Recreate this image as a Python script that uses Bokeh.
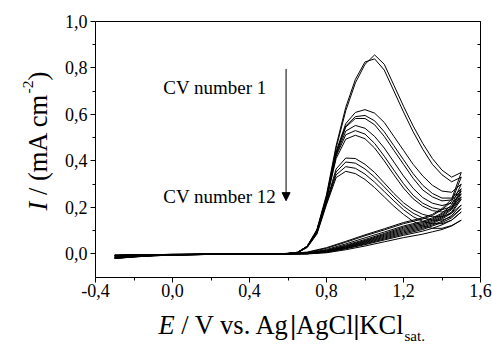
import math
from bokeh.plotting import figure
from bokeh.models import (Range1d, LinearAxis, FixedTicker, CustomJSTickFormatter,
                          Label, Arrow, NormalHead, ColumnDataSource)
from bokeh.embed import file_html
from bokeh.resources import INLINE

# ---------------- data ----------------
E_FWD = [-0.3, -0.2, -0.1, 0.0, 0.2, 0.4, 0.6, 0.65, 0.7, 0.75, 0.8, 0.85, 0.9,
         0.95, 1.0, 1.05, 1.1, 1.15, 1.2, 1.25, 1.3, 1.35, 1.4, 1.45, 1.5]
E_REV = [1.5, 1.45, 1.4, 1.35, 1.3, 1.2, 1.1, 1.0, 0.9, 0.8, 0.7, 0.6, 0.4, 0.2,
         0.0, -0.2, -0.3]

I_FWD_1 = [-0.014, -0.009, -0.005, -0.003, -0.001, 0.000, 0.002, 0.007, 0.032, 0.100, 0.245, 0.455, 0.615, 0.735, 0.815, 0.855, 0.815, 0.725, 0.635, 0.550, 0.475, 0.410, 0.360, 0.330, 0.350]
I_FWD_2 = [-0.015, -0.010, -0.006, -0.003, -0.001, 0.000, 0.002, 0.007, 0.034, 0.105, 0.255, 0.465, 0.630, 0.750, 0.825, 0.838, 0.790, 0.700, 0.610, 0.525, 0.450, 0.385, 0.340, 0.310, 0.330]
I_FWD_3 = [-0.015, -0.010, -0.006, -0.003, -0.001, 0.000, 0.002, 0.007, 0.033, 0.100, 0.245, 0.440, 0.560, 0.608, 0.620, 0.605, 0.565, 0.505, 0.445, 0.385, 0.335, 0.295, 0.270, 0.265, 0.300]
I_FWD_4 = [-0.016, -0.010, -0.006, -0.004, -0.001, 0.000, 0.002, 0.007, 0.033, 0.100, 0.245, 0.435, 0.550, 0.590, 0.595, 0.572, 0.525, 0.465, 0.405, 0.345, 0.295, 0.260, 0.240, 0.240, 0.280]
I_FWD_5 = [-0.016, -0.011, -0.006, -0.004, -0.001, 0.000, 0.002, 0.007, 0.033, 0.100, 0.240, 0.430, 0.545, 0.582, 0.582, 0.555, 0.505, 0.445, 0.385, 0.325, 0.275, 0.245, 0.228, 0.232, 0.270]
I_FWD_6 = [-0.017, -0.011, -0.007, -0.004, -0.001, 0.000, 0.002, 0.006, 0.032, 0.098, 0.238, 0.425, 0.528, 0.552, 0.540, 0.505, 0.455, 0.395, 0.335, 0.282, 0.242, 0.218, 0.208, 0.218, 0.258]
I_FWD_7 = [-0.017, -0.011, -0.007, -0.004, -0.001, 0.000, 0.002, 0.006, 0.032, 0.097, 0.235, 0.420, 0.512, 0.530, 0.515, 0.475, 0.420, 0.360, 0.302, 0.252, 0.218, 0.198, 0.190, 0.203, 0.245]
I_FWD_8 = [-0.018, -0.012, -0.007, -0.004, -0.002, 0.000, 0.002, 0.006, 0.031, 0.095, 0.232, 0.410, 0.493, 0.510, 0.495, 0.455, 0.400, 0.340, 0.283, 0.237, 0.205, 0.186, 0.180, 0.195, 0.235]
I_FWD_9 = [-0.018, -0.012, -0.007, -0.004, -0.002, 0.000, 0.001, 0.006, 0.030, 0.092, 0.225, 0.365, 0.412, 0.410, 0.385, 0.350, 0.305, 0.260, 0.220, 0.190, 0.170, 0.160, 0.160, 0.175, 0.210]
I_FWD_10 = [-0.019, -0.012, -0.008, -0.005, -0.002, 0.000, 0.001, 0.006, 0.030, 0.090, 0.222, 0.352, 0.395, 0.390, 0.365, 0.330, 0.288, 0.245, 0.205, 0.175, 0.155, 0.145, 0.145, 0.160, 0.195]
I_FWD_11 = [-0.019, -0.013, -0.008, -0.005, -0.002, 0.000, 0.001, 0.005, 0.029, 0.088, 0.218, 0.340, 0.375, 0.368, 0.343, 0.308, 0.268, 0.228, 0.190, 0.160, 0.140, 0.130, 0.130, 0.145, 0.180]
I_FWD_12 = [-0.020, -0.013, -0.008, -0.005, -0.002, 0.000, 0.001, 0.005, 0.028, 0.085, 0.212, 0.328, 0.355, 0.345, 0.320, 0.285, 0.245, 0.205, 0.170, 0.140, 0.120, 0.110, 0.110, 0.122, 0.145]

I_REV_1 = [0.350, 0.235, 0.195, 0.170, 0.155, 0.135, 0.108, 0.082, 0.054, 0.027, 0.008, 0.001, 0.000, -0.001, -0.002, -0.004, -0.005]
I_REV_2 = [0.330, 0.225, 0.190, 0.165, 0.150, 0.130, 0.103, 0.078, 0.050, 0.024, 0.006, 0.001, 0.000, -0.001, -0.002, -0.004, -0.005]
I_REV_3 = [0.300, 0.210, 0.175, 0.155, 0.140, 0.120, 0.094, 0.069, 0.043, 0.019, 0.004, 0.001, 0.000, -0.001, -0.002, -0.004, -0.006]
I_REV_4 = [0.280, 0.200, 0.170, 0.150, 0.135, 0.115, 0.088, 0.062, 0.038, 0.016, 0.003, 0.000, 0.000, -0.001, -0.002, -0.004, -0.006]
I_REV_5 = [0.270, 0.195, 0.165, 0.145, 0.130, 0.110, 0.084, 0.058, 0.035, 0.014, 0.003, 0.000, 0.000, -0.001, -0.002, -0.005, -0.007]
I_REV_6 = [0.258, 0.190, 0.160, 0.140, 0.125, 0.105, 0.080, 0.055, 0.032, 0.012, 0.002, 0.000, 0.000, -0.001, -0.003, -0.005, -0.007]
I_REV_7 = [0.245, 0.180, 0.155, 0.135, 0.120, 0.100, 0.076, 0.052, 0.030, 0.011, 0.002, 0.000, 0.000, -0.001, -0.003, -0.005, -0.008]
I_REV_8 = [0.235, 0.175, 0.150, 0.130, 0.115, 0.095, 0.072, 0.049, 0.028, 0.010, 0.001, 0.000, -0.001, -0.002, -0.003, -0.006, -0.008]
I_REV_9 = [0.210, 0.165, 0.140, 0.125, 0.110, 0.090, 0.068, 0.046, 0.026, 0.009, 0.001, 0.000, -0.001, -0.002, -0.003, -0.006, -0.009]
I_REV_10 = [0.195, 0.155, 0.135, 0.120, 0.105, 0.085, 0.064, 0.043, 0.024, 0.008, 0.001, 0.000, -0.001, -0.002, -0.004, -0.007, -0.009]
I_REV_11 = [0.180, 0.145, 0.125, 0.110, 0.098, 0.080, 0.060, 0.040, 0.022, 0.007, 0.001, 0.000, -0.001, -0.002, -0.004, -0.007, -0.010]
I_REV_12 = [0.145, 0.120, 0.105, 0.095, 0.085, 0.070, 0.052, 0.034, 0.018, 0.005, 0.000, 0.000, -0.001, -0.002, -0.004, -0.008, -0.011]

X_TICKS = [-0.4, 0.0, 0.4, 0.8, 1.2, 1.6]
X_MINOR = [-0.2, 0.2, 0.6, 1.0, 1.4]
Y_TICKS = [0.0, 0.2, 0.4, 0.6, 0.8, 1.0]
Y_MINOR = [0.1, 0.3, 0.5, 0.7, 0.9]

FWD = [I_FWD_1, I_FWD_2, I_FWD_3, I_FWD_4, I_FWD_5, I_FWD_6,
       I_FWD_7, I_FWD_8, I_FWD_9, I_FWD_10, I_FWD_11, I_FWD_12]
REV = [I_REV_1, I_REV_2, I_REV_3, I_REV_4, I_REV_5, I_REV_6,
       I_REV_7, I_REV_8, I_REV_9, I_REV_10, I_REV_11, I_REV_12]

SERIF = "Liberation Serif"

# ---------------- layout: axes box inside a full-canvas frame ----------------
W, H = 492, 344
X0, X1, Y0, Y1 = -0.4, 1.6, -0.1, 1.0          # axes box in data units
BOX_L, BOX_R, BOX_T, BOX_B = 95.0, 480.0, 20.7, 276.7   # axes box in pixels
sxp = (BOX_R - BOX_L) / (X1 - X0)
syp = (BOX_B - BOX_T) / (Y1 - Y0)
x_range = Range1d(X0 - BOX_L / sxp, X1 + (W - BOX_R) / sxp)
y_range = Range1d(Y0 - (H - BOX_B) / syp, Y1 + BOX_T / syp)

p = figure(width=W, height=H, x_range=x_range, y_range=y_range,
           output_backend="svg", toolbar_location=None,
           min_border=0, min_border_left=0, min_border_right=0,
           min_border_top=0, min_border_bottom=0)
p.grid.visible = False
p.outline_line_color = None
p.background_fill_color = "white"
p.border_fill_color = "white"

fmt = CustomJSTickFormatter(code="return tick.toFixed(1).replace('.', ',');")

xa = p.xaxis[0]
xa.ticker = FixedTicker(ticks=X_TICKS, minor_ticks=X_MINOR)
xa.fixed_location = Y0
xa.bounds = (X0, X1)
ya = p.yaxis[0]
ya.ticker = FixedTicker(ticks=Y_TICKS, minor_ticks=Y_MINOR)
ya.fixed_location = X0
ya.bounds = (Y0, Y1)
for ax in (xa, ya):
    ax.formatter = fmt
    ax.axis_line_color = "black"
    ax.axis_line_width = 1
    ax.major_tick_line_color = "black"
    ax.minor_tick_line_color = "black"
    ax.major_tick_in = 0
    ax.major_tick_out = 5
    ax.minor_tick_in = 0
    ax.minor_tick_out = 3
    ax.major_label_text_font = SERIF
    ax.major_label_text_font_size = "18px"
    ax.major_label_text_color = "black"
xa.major_label_standoff = 2
ya.major_label_standoff = 3

# right edge of the box: inward ticks at every 0.1, no labels
ra = LinearAxis(ticker=FixedTicker(ticks=[], minor_ticks=sorted(Y_TICKS + Y_MINOR)),
                fixed_location=X1, bounds=(Y0, Y1),
                major_tick_in=0, major_tick_out=0, minor_tick_in=3, minor_tick_out=0,
                axis_line_color="black", minor_tick_line_color="black")
p.add_layout(ra, "right")
# top edge of the box: plain line
ta = LinearAxis(ticker=FixedTicker(ticks=[], minor_ticks=[]),
                fixed_location=Y1, bounds=(X0, X1),
                major_tick_in=0, major_tick_out=0, minor_tick_in=0, minor_tick_out=0,
                axis_line_color="black")
p.add_layout(ta, "above")

# ---------------- curves ----------------
for f, r in zip(FWD, REV):
    src = ColumnDataSource(data=dict(e=E_FWD + E_REV, i=f + r))
    p.line("e", "i", source=src, line_color="black", line_width=1)

# ---------------- annotations ----------------
p.add_layout(Label(x=-0.048, y=0.717, text="CV number 1", text_font=SERIF,
                   text_font_size="19px", text_color="black", text_baseline="alphabetic"))
p.add_layout(Label(x=-0.048, y=0.246, text="CV number 12", text_font=SERIF,
                   text_font_size="19px", text_color="black", text_baseline="alphabetic"))
p.add_layout(Arrow(x_start=0.59, y_start=0.795, x_end=0.59, y_end=0.229,
                   line_color="black", line_width=1,
                   end=NormalHead(size=8, fill_color="black", line_color="black", line_width=1)))

# axis titles built from pieces (anchored at the axes-box bottom-left, offsets in px)
F = 26.5
SP = 0.25 * F   # width of a space
def piece(text, dx, dy, size=F, style="normal", angle=0.0):
    p.add_layout(Label(x=X0, y=Y0, x_offset=dx, y_offset=dy, text=text,
                       text_font=SERIF, text_font_size=f"{size}px", text_font_style=style,
                       text_color="black", angle=angle, text_baseline="alphabetic",
                       text_align="left"))

bx, by = 63, -47.3
piece("E", bx, by, style="italic")
bx += 0.611 * F + SP
piece("/ V vs. Ag", bx, by)
bx += 4.111 * F
piece("|", bx, by, style="bold")
bx += 0.22 * F
piece("AgCl", bx, by)
bx += 2.167 * F
piece("|", bx, by, style="bold")
bx += 0.22 * F
piece("KCl", bx, by)
bx += 1.667 * F
piece("sat.", bx + 1, by - 11, size=15)

yx, yy = -58, 66.7
A = math.pi / 2
piece("I", yx, yy, style="italic", angle=A)
yy += 0.333 * F + SP
piece("/ (mA cm", yx, yy, angle=A)
yy += 3.833 * F
piece("-2", yx - 10, yy, size=15.5, angle=A)
yy += 0.833 * 15.5
piece(")", yx, yy, angle=A)

open("out.html", "w").write(file_html(p, INLINE))
